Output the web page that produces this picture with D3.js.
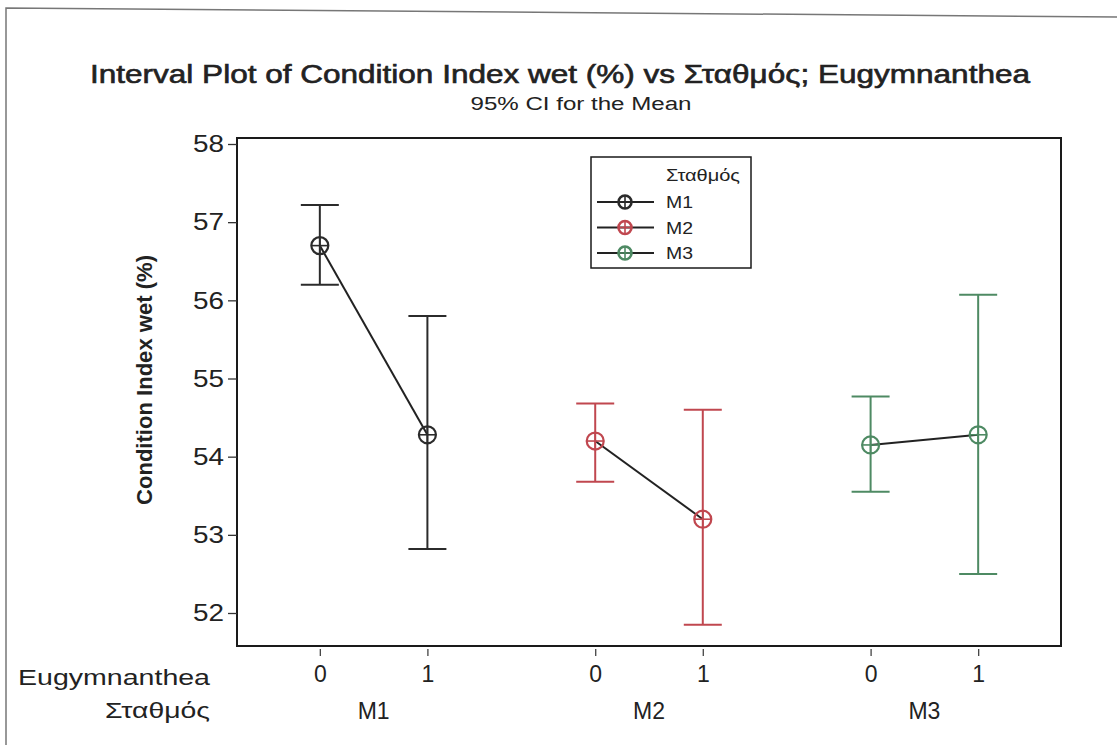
<!DOCTYPE html>
<html>
<head>
<meta charset="utf-8">
<script src="https://cdn.jsdelivr.net/npm/d3@7"></script>
<style>
  html, body { margin: 0; padding: 0; background: #fff; }
  svg { display: block; font-family: "Liberation Sans", Arial, sans-serif; }
</style>
</head>
<body>
<svg id="chart" width="1117" height="745"></svg>
<script>
// ---- data ----
const stations = ["M1", "M2", "M3"];
const eugLevels = ["0", "1"];
const means = [56.70, 54.28, 54.20, 53.20, 54.15, 54.28];
const lowerCI = [56.20, 52.82, 53.68, 51.85, 53.55, 52.50];
const upperCI = [57.22, 55.80, 54.68, 54.60, 54.77, 56.07];
const yTicks = [52, 53, 54, 55, 56, 57, 58];
const stationColors = ["#2b2b2b", "#c0474f", "#4e8a63"];
const titleText = "Interval Plot of Condition Index wet (%) vs Σταθμός; Eugymnanthea";
const subtitleText = "95% CI for the Mean";
const yLabel = "Condition Index wet (%)";
const legendTitle = "Σταθμός";
const rowLabels = ["Eugymnanthea", "Σταθμός"];

// ---- layout ----
const svg = d3.select("#chart");
const plot = { left: 237, right: 1061, top: 138, bottom: 646 };
const groupGap = 2.56;
const pad = 0.77;
const ink = "#222";

const points = [];
stations.forEach((s, gi) => {
  eugLevels.forEach((l, li) => {
    const i = gi * eugLevels.length + li;
    points.push({ station: s, level: l, gi, li, pos: gi * groupGap + li,
      mean: means[i], lo: lowerCI[i], hi: upperCI[i] });
  });
});

const x = d3.scaleLinear()
  .domain([-pad, (stations.length - 1) * groupGap + 1 + pad])
  .range([plot.left, plot.right]);
const y = d3.scaleLinear().domain([52, 58]).range([613, 144]);

// outer border (scanned page frame)
svg.append("path")
  .attr("d", "M6,745 L6,8 L1117,17")
  .attr("fill", "none").attr("stroke", "#777").attr("stroke-width", 1.5);

// titles
svg.append("text").attr("x", 560).attr("y", 83).attr("text-anchor", "middle")
  .attr("font-size", 25).attr("fill", ink).attr("stroke", ink).attr("stroke-width", 0.6)
  .attr("textLength", 940).attr("lengthAdjust", "spacingAndGlyphs")
  .text(titleText);
svg.append("text").attr("x", 581).attr("y", 110).attr("text-anchor", "middle")
  .attr("font-size", 18).attr("fill", ink)
  .attr("textLength", 221).attr("lengthAdjust", "spacingAndGlyphs")
  .text(subtitleText);

// plot frame
svg.append("rect")
  .attr("x", plot.left).attr("y", plot.top)
  .attr("width", plot.right - plot.left).attr("height", plot.bottom - plot.top)
  .attr("fill", "none").attr("stroke", "#1a1a1a").attr("stroke-width", 2);

// y axis
const yAxis = d3.axisLeft(y).tickValues(yTicks).tickSize(9).tickPadding(4)
  .tickFormat(d3.format("d"));
const yg = svg.append("g").attr("transform", `translate(${plot.left},0)`).call(yAxis);
yg.select(".domain").remove();
yg.selectAll("line").attr("stroke", "#333").attr("stroke-width", 1.3);
yg.selectAll("text").attr("font-size", 24).attr("fill", ink)
  .attr("font-family", "Liberation Sans, Arial, sans-serif")
  .attr("textLength", 31).attr("lengthAdjust", "spacingAndGlyphs");

svg.append("text")
  .attr("transform", `translate(152,380) rotate(-90)`)
  .attr("text-anchor", "middle").attr("font-size", 22).attr("font-weight", "bold")
  .attr("fill", ink).attr("textLength", 250).attr("lengthAdjust", "spacingAndGlyphs")
  .text(yLabel);

// x axis (ticks below frame)
const xAxis = d3.axisBottom(x).tickValues(points.map(p => p.pos))
  .tickSize(7).tickPadding(10).tickFormat((d, i) => points[i].level);
const xg = svg.append("g").attr("transform", `translate(0,${plot.bottom + 3})`).call(xAxis);
xg.select(".domain").remove();
xg.selectAll("line").attr("stroke", "#444").attr("stroke-width", 1.3);
xg.selectAll("text").attr("font-size", 23).attr("fill", ink)
  .attr("font-family", "Liberation Sans, Arial, sans-serif");

// station labels
svg.selectAll(".stationLabel").data(stations).enter().append("text")
  .attr("class", "stationLabel")
  .attr("x", (d, gi) => x(gi * groupGap + 0.5))
  .attr("y", 719).attr("text-anchor", "middle")
  .attr("font-size", 23).attr("fill", ink).text(d => d);

// row labels
svg.append("text").attr("x", 210).attr("y", 685).attr("text-anchor", "end")
  .attr("font-size", 22).attr("fill", ink)
  .attr("textLength", 192).attr("lengthAdjust", "spacingAndGlyphs").text(rowLabels[0]);
svg.append("text").attr("x", 210).attr("y", 718).attr("text-anchor", "end")
  .attr("font-size", 22).attr("fill", ink)
  .attr("textLength", 105).attr("lengthAdjust", "spacingAndGlyphs").text(rowLabels[1]);

// connecting mean lines (black) per station
const line = d3.line().x(d => x(d.pos)).y(d => y(d.mean));
stations.forEach((s, gi) => {
  svg.append("path").datum(points.filter(p => p.gi === gi))
    .attr("d", line).attr("fill", "none")
    .attr("stroke", ink).attr("stroke-width", 2);
});

// interval bars
const capHalf = 19;
const bars = svg.append("g").selectAll("g").data(points).enter().append("g")
  .attr("stroke", d => stationColors[d.gi]).attr("stroke-width", 2).attr("fill", "none");
bars.append("line")
  .attr("x1", d => x(d.pos)).attr("x2", d => x(d.pos))
  .attr("y1", d => y(d.hi)).attr("y2", d => y(d.lo));
bars.append("line")
  .attr("x1", d => x(d.pos) - capHalf).attr("x2", d => x(d.pos) + capHalf)
  .attr("y1", d => y(d.hi)).attr("y2", d => y(d.hi));
bars.append("line")
  .attr("x1", d => x(d.pos) - capHalf).attr("x2", d => x(d.pos) + capHalf)
  .attr("y1", d => y(d.lo)).attr("y2", d => y(d.lo));

// mean symbols: circle with cross
function drawSymbol(g, cx, cy, color, r, sw) {
  g.append("circle").attr("cx", cx).attr("cy", cy).attr("r", r)
    .attr("fill", "none").attr("stroke", color).attr("stroke-width", sw);
  g.append("line").attr("x1", cx - r).attr("x2", cx + r).attr("y1", cy).attr("y2", cy)
    .attr("stroke", color).attr("stroke-width", 1.6);
  g.append("line").attr("x1", cx).attr("x2", cx).attr("y1", cy - r).attr("y2", cy + r)
    .attr("stroke", color).attr("stroke-width", 1.6);
}
const sym = svg.append("g");
points.forEach(p => drawSymbol(sym, x(p.pos), y(p.mean), stationColors[p.gi], 8.5, 2.2));

// legend
const lg = svg.append("g");
lg.append("rect").attr("x", 591).attr("y", 157).attr("width", 160).attr("height", 111)
  .attr("fill", "#fff").attr("stroke", "#1a1a1a").attr("stroke-width", 1.5);
lg.append("text").attr("x", 666).attr("y", 181).attr("font-size", 16).attr("fill", ink)
  .attr("textLength", 74).attr("lengthAdjust", "spacingAndGlyphs")
  .text(legendTitle);
stations.forEach((s, gi) => {
  const cy = 202 + gi * 25.5;
  lg.append("line").attr("x1", 597).attr("x2", 654).attr("y1", cy).attr("y2", cy)
    .attr("stroke", ink).attr("stroke-width", 2);
  drawSymbol(lg, 625, cy, stationColors[gi], 6.5, 2.6);
  lg.append("text").attr("x", 666).attr("y", cy + 6).attr("font-size", 17)
    .attr("fill", ink).attr("textLength", 27).attr("lengthAdjust", "spacingAndGlyphs").text(s);
});
</script>
</body>
</html>
